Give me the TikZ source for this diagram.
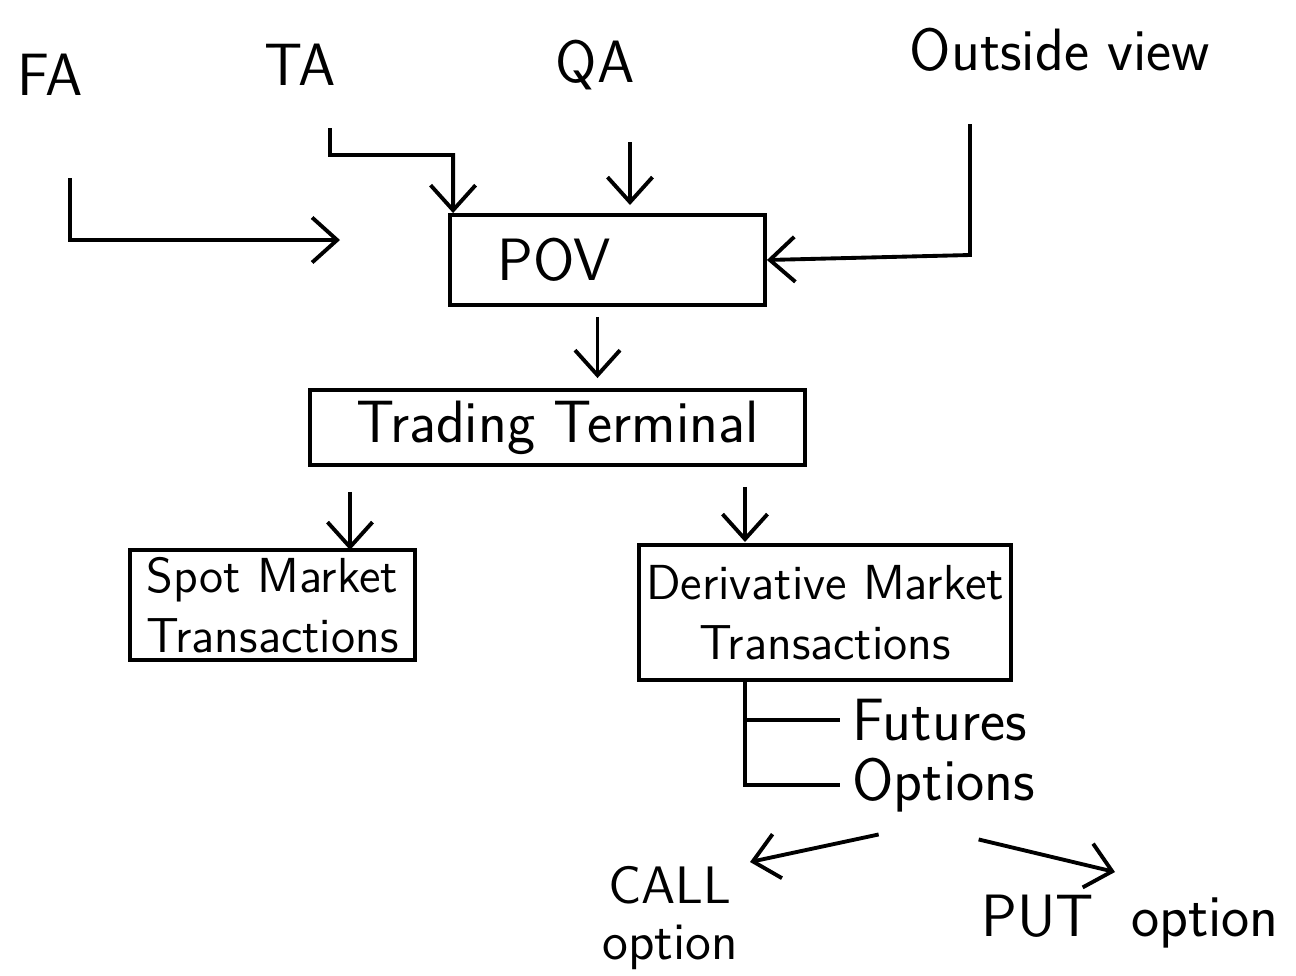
\documentclass[tikz,border=0pt]{standalone}
\usetikzlibrary{arrows.meta}
\tikzset{
  lbl/.style={font=\sffamily\fontsize{17}{20}\selectfont},
  box/.style={draw, line width=1.1pt, align=center, inner sep=2pt, font=\sffamily\fontsize{14}{17}\selectfont},
  arr/.style={line width=1.1pt, -{Straight Barb[length=2.5mm,width=4.5mm]}},
  wire/.style={line width=1.1pt},
}
\begin{document}
\begin{tikzpicture}
  \useasboundingbox[fill=white] (0,0) rectangle (12.96,-9.75);
  % sources
  \node[lbl] (fa) at (0.5,-0.75) {FA};
  \node[lbl] (ta) at (3.0,-0.65) {TA};
  \node[lbl] (qa) at (5.95,-0.65) {QA};
  \node[lbl] (out) at (10.6,-0.5) {Outside view};
  % boxes
  \node[box, minimum width=3.15cm, minimum height=0.9cm, text width=2.8cm, align=left,
        font=\sffamily\fontsize{17}{20}\selectfont] (pov) at (6.075,-2.6) {\hspace*{3mm}POV};
  \node[box, minimum width=4.95cm, minimum height=0.75cm,
        font=\sffamily\fontsize{17}{20}\selectfont] (tt) at (5.575,-4.275) {Trading Terminal};
  \node[box, minimum width=2.85cm, minimum height=1.0cm] (spot) at (2.725,-6.05) {Spot Market\\Transactions};
  \node[box, minimum width=3.6cm, minimum height=1.35cm] (deriv) at (8.25,-6.125) {Derivative Market\\Transactions};
  % branches
  \node[lbl, anchor=west] (fut) at (8.4,-7.2) {Futures};
  \node[lbl, anchor=west] (opt) at (8.4,-7.85) {Options};
  \node[lbl, align=center, inner sep=0pt, font=\sffamily\fontsize{15}{16}\selectfont] (call) at (6.7,-9.18) {CALL\\option};
  \node[lbl] (put) at (11.3,-9.22) {PUT\ \ option};
  % arrow ends
  \coordinate (fa-in) at (3.4,-2.4);
  \coordinate (ta-bend) at (3.3,-1.55);
  \coordinate (qa-in) at (6.3,-2.05);
  \coordinate (ov-bend) at (9.7,-2.55);
  \coordinate (sp-in) at (3.5,-5.5);
  \coordinate (dv-in) at (7.45,-5.42);
  \coordinate (call-in) at (7.5,-8.62);
  \coordinate (put-in) at (11.15,-8.72);
  % connectors
  \draw[arr] ([xshift=2mm,yshift=-7mm]fa.south) |- (fa-in);
  \draw[arr] ([xshift=3mm,yshift=-3mm]ta.south) -- (ta-bend) -| ([xshift=0.5mm]pov.north west);
  \draw[arr] ([yshift=-4mm]qa.south -| qa-in) -- (qa-in);
  \draw[arr] ([yshift=-4mm]out.south -| ov-bend) -- (ov-bend) -- (pov.east);
  \draw[arr, shorten <=1mm, shorten >=1mm] ([xshift=-1mm]pov.south) -- ([xshift=-1mm]pov.south |- tt.north);
  \draw[arr, shorten <=2.5mm] (tt.south -| sp-in) -- (sp-in);
  \draw[arr, shorten <=2mm] (tt.south -| dv-in) -- (dv-in);
  \draw[wire] (deriv.south -| dv-in) |- (opt.west);
  \draw[wire] (dv-in |- fut.west) -- (fut.west);
  \draw[arr] ([xshift=-6.5mm,yshift=-1mm]opt.south) -- (call-in);
  \draw[arr] ([xshift=3.5mm,yshift=-1.5mm]opt.south) -- (put-in);
\end{tikzpicture}
\end{document}
